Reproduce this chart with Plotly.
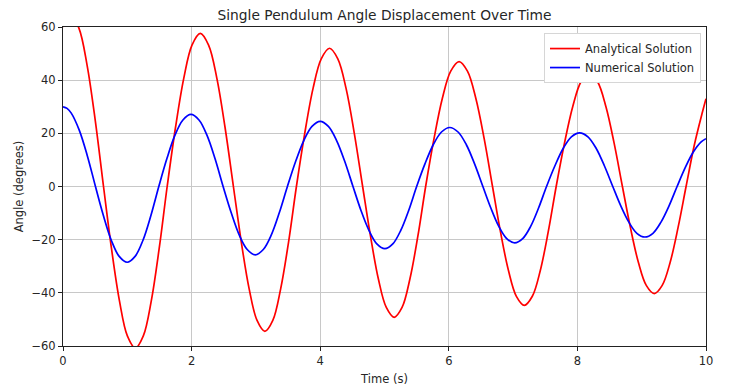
import plotly.graph_objects as go

# Analytical solution (red)
t_analytical = [0.0, 0.12, 0.2475, 0.375, 0.5025, 0.63,
                0.754, 0.878, 1.001, 1.125, 1.249, 1.373, 1.496, 1.62,
                1.749, 1.878, 2.006, 2.135, 2.264, 2.393, 2.521, 2.65,
                2.773, 2.895, 3.018, 3.14, 3.263, 3.385, 3.508, 3.63,
                3.759, 3.888, 4.016, 4.145, 4.274, 4.403, 4.531, 4.66,
                4.783, 4.905, 5.028, 5.15, 5.273, 5.395, 5.518, 5.64,
                5.77, 5.90, 6.03, 6.16, 6.29, 6.42, 6.55, 6.68,
                6.804, 6.928, 7.051, 7.175, 7.299, 7.423, 7.546, 7.67,
                7.799, 7.928, 8.056, 8.185, 8.314, 8.443, 8.571, 8.70,
                8.824, 8.948, 9.071, 9.195, 9.319, 9.443, 9.566, 9.69,
                9.8175, 9.945, 10.0]
theta_analytical = [60.0, 64.5, 59.6, 45.6, 24.7, 0.0,
                    -23.3, -43.0, -56.2, -60.8, -56.2, -43.0, -23.3, 0.0,
                    22.1, 40.7, 53.2, 57.6, 53.2, 40.7, 22.1, 0.0,
                    -20.9, -38.5, -50.4, -54.5, -50.4, -38.5, -20.9, 0.0,
                    19.9, 36.8, 48.0, 52.0, 48.0, 36.8, 19.9, 0.0,
                    -18.8, -34.8, -45.5, -49.2, -45.5, -34.8, -18.8, 0.0,
                    18.0, 33.2, 43.4, 47.0, 43.4, 33.2, 18.0, 0.0,
                    -17.1, -31.6, -41.3, -44.7, -41.3, -31.6, -17.1, 0.0,
                    16.3, 30.1, 39.4, 42.6, 39.4, 30.1, 16.3, 0.0,
                    -15.4, -28.5, -37.2, -40.3, -37.2, -28.5, -15.4, 0.0,
                    15.5, 28.0, 33.0]

# Numerical solution (blue)
t_numerical = [0.0, 0.063, 0.126, 0.2525, 0.379, 0.505,
               0.628, 0.751, 0.874, 0.998, 1.121, 1.244, 1.367, 1.49,
               1.615, 1.74, 1.865, 1.99, 2.115, 2.24, 2.365, 2.49,
               2.615, 2.74, 2.865, 2.99, 3.115, 3.24, 3.365, 3.49,
               3.6175, 3.745, 3.8725, 4.0, 4.1275, 4.255, 4.3825, 4.51,
               4.634, 4.758, 4.881, 5.005, 5.129, 5.253, 5.376, 5.50,
               5.629, 5.758, 5.886, 6.015, 6.144, 6.273, 6.401, 6.53,
               6.654, 6.778, 6.901, 7.025, 7.149, 7.273, 7.396, 7.52,
               7.649, 7.778, 7.906, 8.035, 8.164, 8.293, 8.421, 8.55,
               8.675, 8.80, 8.925, 9.05, 9.175, 9.30, 9.425, 9.55,
               9.675, 9.80, 9.925, 10.0]
theta_numerical = [30.0, 29.4, 27.7, 21.2, 11.5, 0.0,
                   -10.9, -20.2, -26.3, -28.5, -26.3, -20.2, -10.9, 0.0,
                   10.4, 19.2, 25.0, 27.1, 25.0, 19.2, 10.4, 0.0,
                   -9.8, -18.2, -23.7, -25.7, -23.7, -18.2, -9.8, 0.0,
                   9.4, 17.3, 22.6, 24.5, 22.6, 17.3, 9.4, 0.0,
                   -9.0, -16.5, -21.6, -23.4, -21.6, -16.5, -9.0, 0.0,
                   8.5, 15.7, 20.5, 22.2, 20.5, 15.7, 8.5, 0.0,
                   -8.1, -15.0, -19.6, -21.2, -19.6, -15.0, -8.1, 0.0,
                   7.7, 14.3, 18.7, 20.2, 18.7, 14.3, 7.7, 0.0,
                   -7.3, -13.4, -17.6, -19.0, -17.6, -13.4, -7.3, 0.0,
                   7.0, 12.9, 16.8, 18.0]

x_ticks = [0, 2, 4, 6, 8, 10]
y_ticks = [-60, -40, -20, 0, 20, 40, 60]

FONT = "DejaVu Sans"
TXT = "#262626"

fig = go.Figure()
fig.add_trace(go.Scatter(
    x=t_analytical, y=theta_analytical, mode="lines",
    name="Analytical Solution",
    line=dict(color="#ff0000", width=1.7, shape="spline", smoothing=1.0),
))
fig.add_trace(go.Scatter(
    x=t_numerical, y=theta_numerical, mode="lines",
    name="Numerical Solution",
    line=dict(color="#0000ff", width=1.7, shape="spline", smoothing=1.0),
))

axis_common = dict(
    showgrid=True, gridcolor="#c8c8c8", gridwidth=1,
    showline=True, linecolor="#222222", linewidth=1, mirror=True,
    ticks="outside", ticklen=4, tickcolor="#222222", tickwidth=1,
    zeroline=False, automargin=False,
    tickfont=dict(family=FONT, size=11.5, color=TXT),
)

# The page body has an 8px default margin, so the figure is sized to fit.
fig.update_layout(
    width=739, height=382,
    margin=dict(l=55, r=41, t=19, b=44),
    paper_bgcolor="white", plot_bgcolor="white",
    font=dict(family=FONT, color=TXT),
    title=dict(text="Single Pendulum Angle Displacement Over Time",
               x=0.5, xref="paper", xanchor="center",
               y=0.982, yanchor="middle",
               font=dict(family=FONT, size=13.8, color=TXT)),
    xaxis=dict(range=[0, 10], tickvals=x_ticks,
               title=dict(text="Time (s)", standoff=8,
                          font=dict(family=FONT, size=11.5, color=TXT)),
               **axis_common),
    yaxis=dict(range=[-60, 60], tickvals=y_ticks,
               title=dict(text="Angle (degrees)", standoff=5,
                          font=dict(family=FONT, size=11.5, color=TXT)),
               **axis_common),
    legend=dict(x=0.9922, y=0.981, xanchor="right", yanchor="top",
                bgcolor="white", bordercolor="#d6d6d6",
                borderwidth=1, font=dict(family=FONT, size=11.5, color=TXT),
                tracegroupgap=0, itemwidth=30),
    showlegend=True,
)

fig.write_html("out.html")
